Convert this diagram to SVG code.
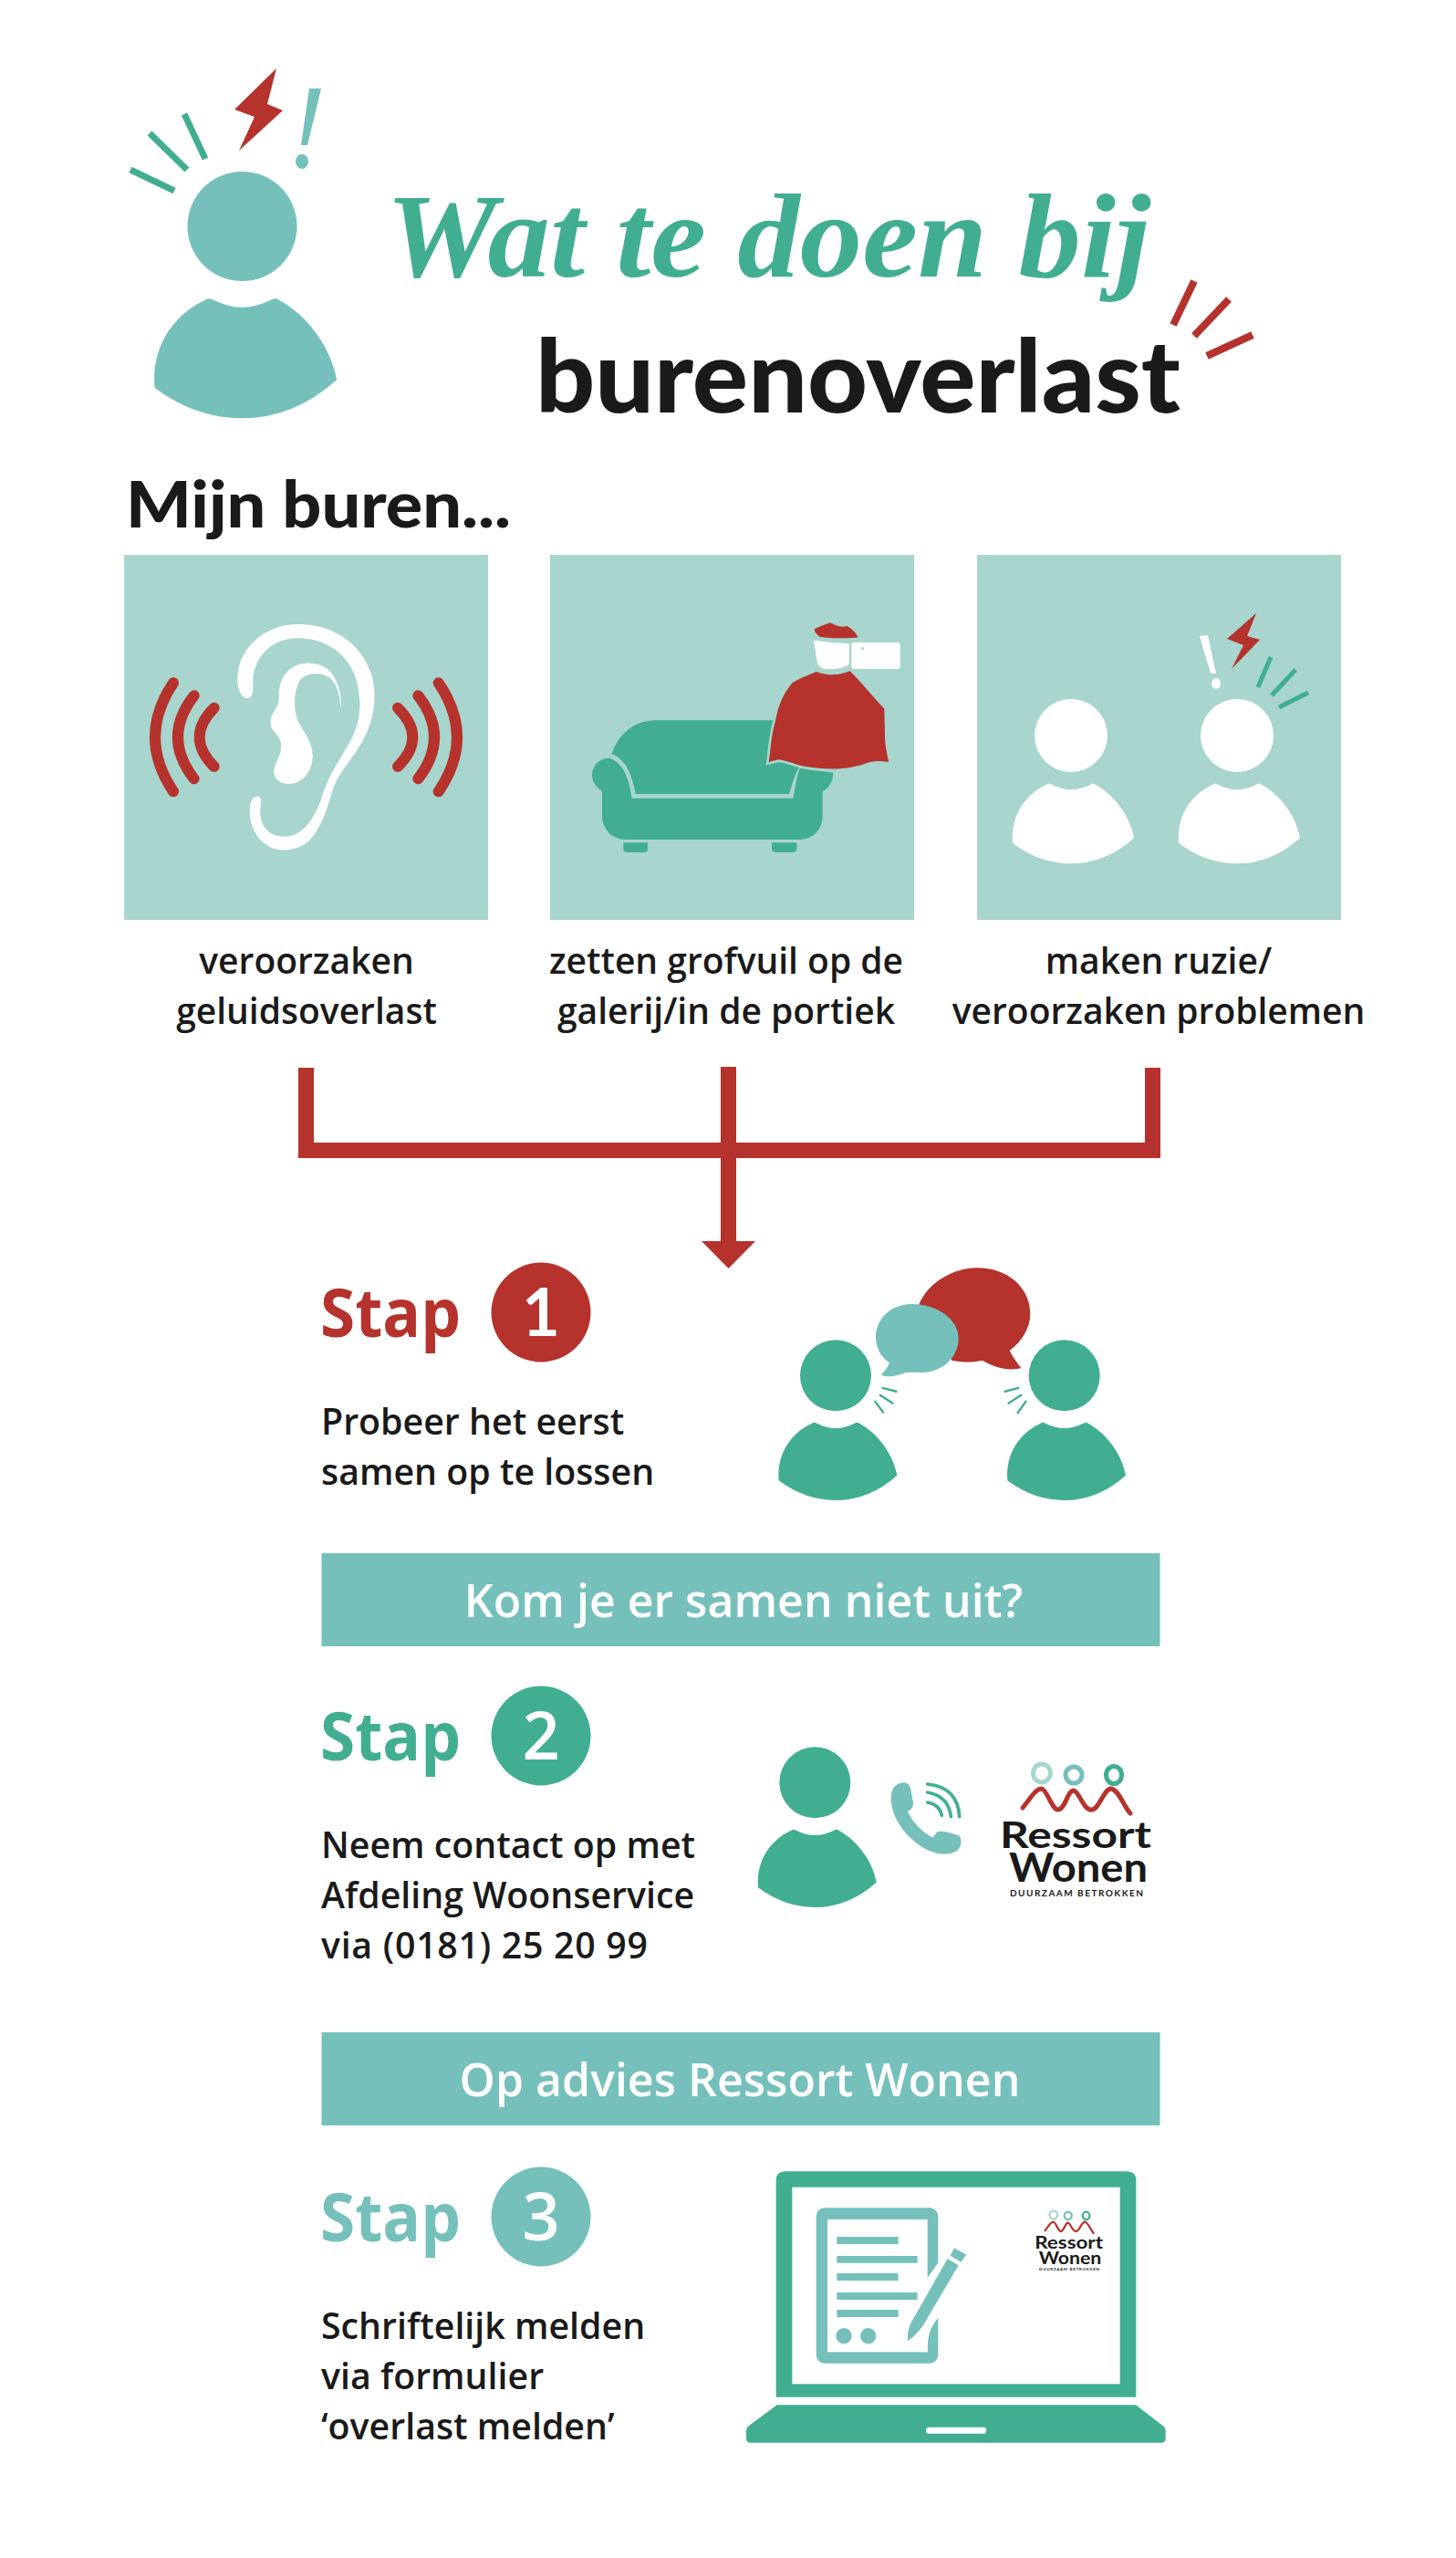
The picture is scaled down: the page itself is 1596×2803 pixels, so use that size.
<svg xmlns="http://www.w3.org/2000/svg" xmlns:xlink="http://www.w3.org/1999/xlink" width="1596" height="2803" viewBox="0 0 1596 2803">
<style>
.g{fill:#41ae92}.t{fill:#75c0bb}.r{fill:#b5332c}.w{fill:#fff}.p{fill:#a8d5cd}
.body{font-family:"Open Sans","Liberation Sans",sans-serif;font-weight:600;font-size:39.300px;fill:#1a1a1a}
.lbl{text-anchor:middle;font-size:39px}
.stap{font-family:"Open Sans","Liberation Sans",sans-serif;font-weight:700;font-size:74px}
.num{font-family:"Open Sans","Liberation Sans",sans-serif;font-weight:600;font-size:72px;fill:#fff;text-anchor:middle}
.bar{font-family:"Open Sans","Liberation Sans",sans-serif;font-weight:600;font-size:50px;fill:#fff;text-anchor:middle}
.head{font-family:Lato,"Liberation Sans",sans-serif;font-weight:900;fill:#1a1a1a}
.logo{font-family:Lato,"Liberation Sans",sans-serif;font-weight:700;fill:#1a1a1a}
.sg{stroke:#41ae92;fill:none}.sr{stroke:#b5332c;fill:none}
.arc{stroke:#b5332c;fill:none;stroke-width:36;stroke-linecap:round}
</style>
<defs>
<path id="personBody" d="M-78,157 Q-72,152 -62,157 Q-30,173 0,173 Q30,173 62,157 Q72,152 78,157 C140,190 190,260 202,328 Q110,410 0,410 Q-100,410 -187,345 C-195,250 -140,185 -78,157Z"/>
<g id="person"><circle cx="0" cy="0" r="117"/><use xlink:href="#personBody" href="#personBody"/></g>
<g id="logomark">
<g fill="none" stroke-width="5">
<ellipse cx="1142" cy="1943" rx="9.500" ry="10" stroke="#a8d5cd"/>
<ellipse cx="1177" cy="1945" rx="9" ry="9" stroke="#75c0bb"/>
<ellipse cx="1221" cy="1945" rx="8.500" ry="9.500" stroke="#41ae92"/>
</g>
<path class="sr" stroke-width="5" stroke-linecap="round" d="M1121,1981 C1130,1970 1135,1960 1142,1960 C1148,1962 1153,1983 1160,1983 C1168,1982 1170,1962 1177,1962 C1183,1963 1188,1985 1197,1983 C1205,1982 1210,1960 1218,1960 C1227,1962 1232,1980 1239,1987"/>
<text class="logo" x="1096" y="2025" font-size="40" textLength="166" lengthAdjust="spacingAndGlyphs">Ressort</text>
<text class="logo" x="1106" y="2062" font-size="44" textLength="152" lengthAdjust="spacingAndGlyphs">Wonen</text>
<text class="logo" x="1107" y="2078" font-size="10" textLength="146">DUURZAAM BETROKKEN</text>
</g>
</defs>
<rect width="1596" height="2803" fill="#fff"/>

<g id="header-person">
<g class="t"><use href="#person" transform="translate(265.500,248) scale(.513)"/></g>
<polygon class="r" points="303,75 257,120 279,128 262,165 310,121 293,114"/>
<polygon class="t" points="339,97 352,97 337,159 330,159"/>
<ellipse class="t" cx="331" cy="177" rx="7" ry="8"/>
<g class="sg" stroke-width="7"><path d="M202,125L225,174M164,146L205,186M143,186L191,209"/></g>
</g>

<g id="title">
<text x="423" y="303" font-family="'Liberation Serif',serif" font-style="italic" font-weight="700" font-size="132" class="g" textLength="838" lengthAdjust="spacingAndGlyphs">Wat te doen bij</text>
<text class="head" x="587" y="452" font-size="110" textLength="707" lengthAdjust="spacingAndGlyphs">burenoverlast</text>
<g class="sr" stroke-width="8"><path d="M1309,308L1286,356M1347,328L1309,368M1373,367L1323,390"/></g>
</g>

<text id="intro" class="head" x="138" y="578" font-size="71" textLength="422" lengthAdjust="spacingAndGlyphs">Mijn buren...</text>

<g id="panel-noise">
<rect class="p" x="136" y="608" width="399" height="400"/>
<g transform="translate(130,660) scale(.33333)">
<path class="arc" d="M180,265Q60,443 180,622M248,307Q142,443 248,580M314,347Q218,443 314,540M1052,265Q1174,443 1052,622M985,307Q1091,443 985,580M918,347Q1016,443 918,540"/>
<path class="w" d="M412,312 C395,300 388,270 392,235 C400,150 480,72 590,72 C720,72 810,150 835,250 C850,320 840,390 800,460 C760,530 720,560 700,630 C680,700 660,750 625,785 C590,815 530,825 490,800 C445,770 425,720 433,665 C436,645 450,635 462,640 C472,645 468,660 466,680 C462,730 490,770 545,770 C600,770 640,720 665,650 C690,570 720,530 760,460 C800,390 800,320 780,250 C755,170 680,118 590,118 C510,118 455,170 443,240 C440,270 445,290 438,305 C432,318 420,318 412,312 Z"/>
<path class="w" d="M730,350 C728,300 715,260 690,245 C650,225 600,235 590,270 C575,310 575,350 590,390 C610,430 640,460 638,510 C636,560 600,598 560,597 C525,596 505,575 512,545 C520,515 545,490 530,450 C515,425 495,415 500,385 C505,360 525,345 527,320 C525,270 540,225 590,205 C630,195 680,200 705,240 C725,270 735,310 730,350 Z"/>
</g>
<text class="body lbl" x="336" y="1067">veroorzaken</text>
<text class="body lbl" x="336" y="1122">geluidsoverlast</text>
</g>

<g id="panel-waste">
<rect class="p" x="603" y="608" width="399" height="400"/>
<g transform="translate(590,660) scale(.33333)">
<path class="g" d="M242,498 C265,430 320,388 385,388 L775,388 L860,540 C845,560 835,600 825,630 L320,630 C310,580 295,520 242,498Z"/>
<path class="g" d="M235,512 C200,510 175,540 177,570 C178,595 195,610 210,622 L210,700 C210,745 240,780 290,780 L860,780 C905,780 935,745 935,700 L935,622 C955,610 970,590 970,560 L860,545 C850,570 845,610 838,644 L308,644 C300,590 285,530 235,512 Z"/>
<path class="g" d="M280,790H360V812Q360,822 340,822H300Q280,822 280,812ZM768,790H850V812Q850,822 830,822H788Q768,822 768,812Z"/>
<path class="r" stroke="#a8d5cd" stroke-width="16" paint-order="stroke" d="M915,228 C930,235 950,238 970,238 C990,238 1010,232 1025,226 C1060,260 1100,310 1138,350 L1140,440 C1140,470 1148,500 1152,525 C1125,520 1100,520 1075,530 C1020,550 950,552 880,540 C845,535 820,520 790,517 C780,520 770,522 758,525 C765,480 765,440 780,390 C790,340 800,310 835,265 C860,250 885,240 915,228Z"/>
<path class="r" d="M908,88 C925,80 945,72 960,67 C975,75 995,85 1015,78 C1030,85 1045,100 1052,115 C1020,120 960,118 925,113 C915,105 908,98 908,88Z"/>
<path class="w" d="M905,125 C945,130 990,135 1022,135 C1024,160 1022,190 1022,205 C1000,218 970,222 945,220 C925,215 918,205 915,185 C912,165 910,145 905,125Z"/>
<rect class="w" x="1030" y="132" width="160" height="87" rx="8"/>
<circle class="p" cx="1067" cy="152" r="5"/>
</g>
<text class="body lbl" x="796" y="1067">zetten grofvuil op de</text>
<text class="body lbl" x="796" y="1122">galerij/in de portiek</text>
</g>

<g id="panel-quarrel">
<rect class="p" x="1071" y="608" width="399" height="400"/>
<g class="w">
<use href="#person" transform="translate(1174,806) scale(.342)"/>
<use href="#person" transform="translate(1356,806) scale(.342)"/>
<polygon points="1315,697 1324,696 1333,738 1327,738"/>
<ellipse cx="1333" cy="749" rx="5" ry="6"/>
</g>
<polygon class="r" points="1377,672 1345,700 1363,707 1350,733 1381,701 1367,697"/>
<g class="sg" stroke-width="5"><path d="M1393,720L1379,753M1420,734L1394,762M1434,759L1402,775"/></g>
<text class="body lbl" x="1270" y="1067">maken ruzie/</text>
<text class="body lbl" x="1270" y="1122">veroorzaken problemen</text>
</g>

<g id="connectors">
<path fill="none" stroke="#b5332c" stroke-width="17" d="M335.500,1170V1260.500H1263.500V1170M798.500,1169V1365"/>
<polygon class="r" points="769,1360 828,1360 798.500,1390"/>
</g>

<g id="step1">
<text class="stap r" x="351" y="1465" textLength="154" lengthAdjust="spacingAndGlyphs">Stap</text>
<circle class="r" cx="593" cy="1438" r="54.500"/>
<text class="num" x="593" y="1464" font-family="Lato,sans-serif" style="font-family:Lato,sans-serif;font-weight:700;font-size:72px">1</text>
<text class="body" x="352" y="1572">Probeer het eerst</text>
<text class="body" x="352" y="1627">samen op te lossen</text>
<g transform="translate(800,1370) scale(.33333)">
<path class="r" d="M622,178 C650,110 730,58 815,58 C910,58 988,120 988,210 C988,255 960,300 920,330 C930,350 945,370 958,388 C915,398 870,385 830,362 C800,370 760,368 730,362 Z"/>
<path class="t" d="M600,177 C680,177 752,225 752,290 C752,350 700,402 630,402 C600,402 585,400 570,405 C545,415 520,418 498,410 C510,395 520,385 525,370 C495,350 480,320 480,285 C480,225 530,177 600,177 Z"/>
<g class="g"><use href="#person" transform="translate(348,412)"/><use href="#person" transform="translate(1100,412)"/></g>
<path class="sg" stroke-width="7" d="M500,452L550,465M492,475L538,505M476,495L506,535M902,465L952,452M914,505L960,475M945,537L975,495"/>
</g>
</g>

<g id="banner1">
<rect class="t" x="352.500" y="1702" width="919" height="102"/>
<text class="bar" x="815" y="1772">Kom je er samen niet uit?</text>
</g>

<g id="step2">
<text class="stap g" x="351" y="1929" textLength="154" lengthAdjust="spacingAndGlyphs">Stap</text>
<circle class="g" cx="593" cy="1902" r="54.500"/>
<text class="num" x="593" y="1928">2</text>
<text class="body" x="352" y="2036">Neem contact op met</text>
<text class="body" x="352" y="2091">Afdeling Woonservice</text>
<text class="body" x="352" y="2146" textLength="358">via (0181) 25 20 99</text>
<g transform="translate(800,1900) scale(.33333)">
<g class="g"><use href="#person" transform="translate(280,160)"/></g>
<path class="t" d="M530,210 C530,175 550,160 575,160 C590,162 595,175 597,195 C600,215 610,235 595,248 L585,255 C600,290 640,330 668,340 L682,322 C700,315 740,330 755,335 C762,345 762,365 755,375 C740,395 710,398 680,392 C620,380 530,300 530,210Z"/>
<path class="sg" stroke-width="11" stroke-linecap="round" d="M650,165Q750,175 755,272M650,192Q720,205 727,272M650,225Q690,232 697,268"/>
</g>
<use href="#logomark"/>
</g>

<g id="banner2">
<rect class="t" x="352.500" y="2227" width="919" height="102"/>
<text class="bar" x="811" y="2297">Op advies Ressort Wonen</text>
</g>

<g id="step3">
<text class="stap t" x="351" y="2456" textLength="154" lengthAdjust="spacingAndGlyphs">Stap</text>
<circle class="t" cx="593" cy="2429" r="54.500"/>
<text class="num" x="593" y="2455">3</text>
<text class="body" x="352" y="2563">Schriftelijk melden</text>
<text class="body" x="352" y="2618">via formulier</text>
<text class="body" x="352" y="2673">‘overlast melden’</text>
<g transform="translate(800,2370) scale(.33333)">
<path class="g" d="M182,28H1306Q1336,28 1336,58V770H152V58Q152,28 182,28Z"/>
<rect class="w" x="205" y="80" width="1078" height="647"/>
<path class="g" d="M155,796L1335,796L1425,865Q1433,870 1433,880L1433,905Q1433,920 1418,920L70,920Q54,920 54,905L54,880Q54,870 62,865Z"/>
<rect class="w" x="646" y="869" width="197" height="21" rx="8"/>
<rect class="t" x="284" y="148" width="401" height="511" rx="28"/>
<rect class="w" x="321" y="186" width="329" height="436"/>
<path class="w" d="M645,385L690,322V505C660,535 650,565 650,622H640Z"/>
<path class="t" d="M352,243H554V267H352ZM352,306H617V329H352ZM352,363H554V387H352ZM352,426H617V450H352ZM352,483H554V507H352Z"/>
<circle class="t" cx="375" cy="569" r="26"/><circle class="t" cx="455" cy="569" r="26"/>
<path class="t" d="M716,315L752,337L650,510C635,540 610,570 585,585C583,560 590,530 605,510Z"/>
<polygon class="t" points="738,280 778,302 760,326 725,305"/>
</g>
<use href="#logomark" transform="translate(639.400,1550) scale(.4514)"/>
</g>
</svg>
